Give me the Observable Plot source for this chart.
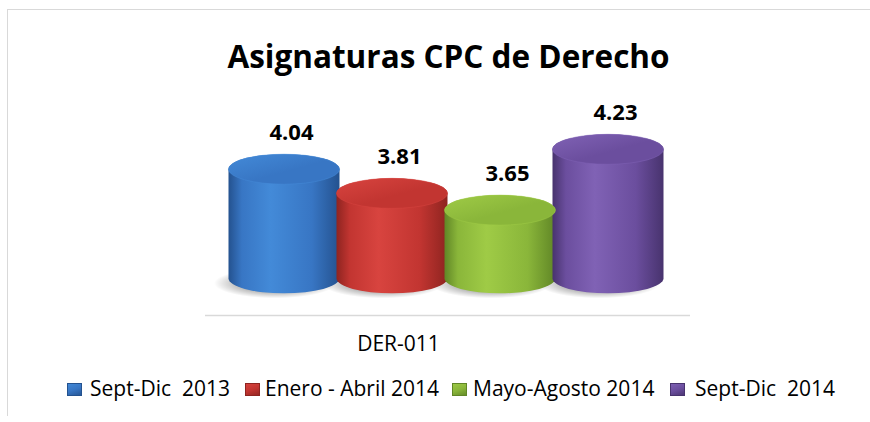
<!DOCTYPE html>
<html>
<head>
<meta charset="utf-8">
<script src="https://cdn.jsdelivr.net/npm/d3@7"></script>
<script src="https://cdn.jsdelivr.net/npm/@observablehq/plot@0.6"></script>
<style>
  html, body { margin: 0; padding: 0; background: #fff; }
  body { width: 870px; height: 422px; overflow: hidden; position: relative; font-family: "Open Sans", sans-serif; color: #000; }
  #frame { position: absolute; left: 7px; top: 9px; width: 900px; height: 406px; border-left: 1px solid #d9d9d9; border-top: 1px solid #d9d9d9; }
  #title { position: absolute; left: 0; top: 40px; width: 897px; text-align: center; font-weight: 700; font-size: 31.5px; line-height: 1; white-space: nowrap; }
  #chart { position: absolute; left: 0; top: 100px; }
  .lg-mark { position: absolute; top: 383px; width: 15px; height: 13px; box-sizing: border-box; }
  .lg-text { position: absolute; top: 378px; font-size: 21px; line-height: 1; white-space: pre; }
</style>
</head>
<body>
<div id="frame"></div>
<div id="title">Asignaturas CPC de Derecho</div>
<div id="chart"></div>
<div id="legend"></div>
<script>
// ---- data ----
const category = "DER-011";
const series = ["Sept-Dic  2013", "Enero - Abril 2014", "Mayo-Agosto 2014", "Sept-Dic  2014"];
const values = [4.04, 3.81, 3.65, 4.23];
const valueLabels = ["4.04", "3.81", "3.65", "4.23"];
const yBase = 3.0;
const yDomain = [2.65, 4.7];

// ---- styles ----
const shades = [
  {light: "#438ad8", mid: "#3876c4", dark: "#24528f"},
  {light: "#d8443f", mid: "#c23531", dark: "#8e2420"},
  {light: "#9fcb46", mid: "#8ab63a", dark: "#608626"},
  {light: "#8062b5", mid: "#6b4e9e", dark: "#48336e"}
];
const legendLeft = {mark: [67, 245, 452, 670], text: [90, 265, 473, 695]};

const rows = series.map((s, i) => ({category, series: s, value: values[i], label: valueLabels[i], key: i}));

const cylinder = {fx: "category", x: "series", insetLeft: -1.5, insetRight: -1.5, rx: 55.5, ry: 15};

const marks = [
  Plot.ruleY([yDomain[0]], {stroke: "#d9d9d9", strokeWidth: 1.5, insetLeft: -25, insetRight: -28}),
  // floor shadows
  Plot.barY(rows, {fx: "category", x: "series", y1: yBase, y2: yBase, fill: "url(#shadow)",
    insetTop: -10, insetBottom: -20, insetLeft: -16, insetRight: 2, rx: 60, ry: 16}),
  // cylinder bodies
  Plot.barY(rows, {...cylinder, y1: yBase, y2: "value", fill: d => `url(#body-${d.key})`, insetTop: -15, insetBottom: -15}),
  // top caps
  Plot.barY(rows, {...cylinder, y1: "value", y2: "value", fill: d => `url(#cap-${d.key})`, insetTop: -15, insetBottom: -15,
    stroke: d => shades[d.key].light, strokeOpacity: 0.5, strokeWidth: 1}),
  // value labels
  Plot.text(rows, {fx: "category", x: "series", y: "value", text: "label", dy: -37, dx: 7,
    fontSize: 22, fontWeight: "bold", fill: "#000"})
];

const hasAxisMarks = typeof Plot.axisFx === "function";
if (hasAxisMarks) {
  marks.push(Plot.axisFx({anchor: "bottom", tickSize: 0, tickPadding: 21, dx: -48, label: null, fontSize: 21, fill: "#000"}));
}

const svg = Plot.plot({
  width: 870,
  height: 268,
  marginLeft: 230,
  marginRight: 208,
  marginTop: 0,
  marginBottom: 53,
  style: {fontFamily: "Open Sans, sans-serif", fontSize: "21px", color: "#000", background: "transparent", overflow: "visible"},
  fx: {domain: [category], padding: 0, axis: hasAxisMarks ? null : "bottom", label: null, tickSize: 0, tickPadding: 21},
  x: {domain: series, padding: 0, axis: null},
  y: {domain: yDomain, axis: null},
  color: {type: "identity"},
  marks
});

// gradients
const defs = d3.select(svg).insert("defs", ":first-child");
shades.forEach((c, i) => {
  const b = defs.append("linearGradient").attr("id", `body-${i}`).attr("x1", 0).attr("x2", 1).attr("y1", 0).attr("y2", 0);
  [[0, c.dark], [0.12, c.mid], [0.38, c.light], [0.75, c.mid], [1, c.dark]].forEach(([o, col]) =>
    b.append("stop").attr("offset", o).attr("stop-color", col));
  const t = defs.append("linearGradient").attr("id", `cap-${i}`).attr("x1", 0).attr("x2", 1).attr("y1", 0).attr("y2", 1);
  [[0, c.light], [0.55, c.mid], [1, c.mid]].forEach(([o, col]) =>
    t.append("stop").attr("offset", o).attr("stop-color", col));
});
const sh = defs.append("radialGradient").attr("id", "shadow").attr("cx", 0.5).attr("cy", 0.5).attr("r", 0.5);
[[0, "rgba(0,0,0,0.45)"], [0.6, "rgba(0,0,0,0.28)"], [1, "rgba(0,0,0,0)"]].forEach(([o, col]) =>
  sh.append("stop").attr("offset", o).attr("stop-color", col));

document.getElementById("chart").appendChild(svg);

// legend
const legend = document.getElementById("legend");
series.forEach((s, i) => {
  const c = shades[i];
  const m = document.createElement("div");
  m.className = "lg-mark";
  m.style.left = legendLeft.mark[i] + "px";
  m.style.background = `linear-gradient(160deg, ${c.light} 0%, ${c.mid} 50%, ${c.dark} 100%)`;
  m.style.boxShadow = `inset 0 0 0 1px ${c.dark}`;
  legend.appendChild(m);
  const t = document.createElement("div");
  t.className = "lg-text";
  t.style.left = legendLeft.text[i] + "px";
  t.textContent = s;
  legend.appendChild(t);
});
</script>
</body>
</html>
